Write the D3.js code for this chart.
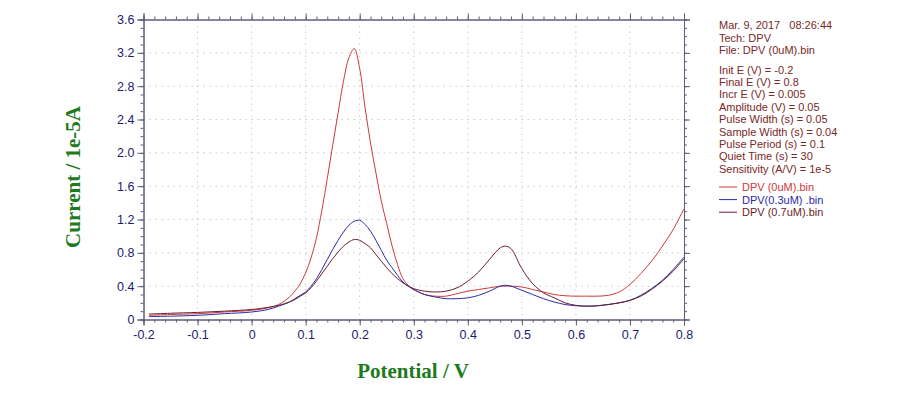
<!DOCTYPE html>
<html><head><meta charset="utf-8">
<script src="https://cdn.jsdelivr.net/npm/d3@7"></script>
<style>body{margin:0;background:#fff}svg{display:block}</style>
</head><body>
<svg id="c" width="900" height="412"></svg>
<script>
const potentials = [-0.19,-0.15,-0.1,-0.05,0,0.03,0.05,0.07,0.08,0.09,0.1,0.11,0.12,0.13,0.14,0.15,0.16,0.17,0.18,0.19,0.2,0.21,0.22,0.23,0.24,0.25,0.26,0.27,0.28,0.29,0.3,0.32,0.34,0.36,0.38,0.4,0.42,0.44,0.46,0.47,0.48,0.5,0.52,0.54,0.56,0.58,0.6,0.62,0.64,0.66,0.68,0.7,0.72,0.74,0.76,0.78,0.8];
const dpv0uM  = [0.05,0.06,0.07,0.09,0.11,0.14,0.18,0.27,0.34,0.43,0.56,0.74,0.98,1.31,1.69,2.09,2.48,2.86,3.14,3.25,3.01,2.54,2.12,1.76,1.42,1.15,0.88,0.66,0.49,0.41,0.36,0.30,0.28,0.28,0.31,0.34,0.36,0.38,0.40,0.40,0.40,0.39,0.36,0.33,0.30,0.285,0.28,0.28,0.28,0.29,0.33,0.42,0.55,0.70,0.88,1.08,1.33];
const dpv03uM = [0.035,0.04,0.05,0.07,0.09,0.12,0.16,0.21,0.25,0.29,0.33,0.40,0.49,0.60,0.72,0.84,0.95,1.05,1.13,1.18,1.19,1.14,1.06,0.95,0.83,0.71,0.62,0.53,0.45,0.40,0.36,0.30,0.27,0.25,0.25,0.26,0.29,0.34,0.40,0.41,0.40,0.35,0.30,0.25,0.21,0.18,0.165,0.16,0.165,0.18,0.20,0.23,0.29,0.37,0.47,0.60,0.75];
const dpv07uM = [0.065,0.075,0.085,0.10,0.12,0.145,0.17,0.21,0.24,0.28,0.32,0.38,0.46,0.55,0.64,0.73,0.81,0.88,0.93,0.96,0.95,0.91,0.86,0.78,0.70,0.62,0.55,0.49,0.44,0.40,0.37,0.34,0.33,0.34,0.38,0.46,0.57,0.72,0.86,0.88,0.85,0.61,0.43,0.32,0.26,0.20,0.17,0.16,0.165,0.18,0.20,0.23,0.28,0.36,0.46,0.58,0.73];
const seriesNames = ["DPV (0uM).bin","DPV(0.3uM) .bin","DPV (0.7uM).bin"];
const seriesColors = ["#cc3a3a","#2a2aa8","#6a1e2a"];
const xTicks = [-0.2,-0.1,0,0.1,0.2,0.3,0.4,0.5,0.6,0.7,0.8];
const yTicks = [0,0.4,0.8,1.2,1.6,2.0,2.4,2.8,3.2,3.6];
const infoLines = ["Mar. 9, 2017   08:26:44","Tech: DPV","File: DPV (0uM).bin"];
const paramLines = ["Init E (V) = -0.2","Final E (V) = 0.8","Incr E (V) = 0.005","Amplitude (V) = 0.05","Pulse Width (s) = 0.05","Sample Width (s) = 0.04","Pulse Period (s) = 0.1","Quiet Time (s) = 30","Sensitivity (A/V) = 1e-5"];

const svg = d3.select("#c");
const L=143.5, R=684, T=19.5, B=319.5;
const x = d3.scaleLinear().domain([-0.2,0.8]).range([L,R]);
const y = d3.scaleLinear().domain([0,3.6]).range([B,T]);
const axisCol = "#5c5c7c", labCol = "#1c1c70";

// grid
const g = svg.append("g");
g.selectAll(".gx").data(xTicks.slice(1,-1)).join("line")
  .attr("x1",d=>x(d)).attr("x2",d=>x(d)).attr("y1",T).attr("y2",B)
  .attr("stroke","#c8c8c8").attr("stroke-width",1).attr("stroke-dasharray","1.5,4.5");
g.selectAll(".gy").data(yTicks.slice(1,-1)).join("line")
  .attr("y1",d=>y(d)).attr("y2",d=>y(d)).attr("x1",L).attr("x2",R)
  .attr("stroke","#c8c8c8").attr("stroke-width",1).attr("stroke-dasharray","1.5,4.5");

// minor ticks
const xMinor = d3.range(-0.2,0.8001,0.02);
const yMinor = d3.range(0,3.6001,0.1);
function styleAxis(sel){
  sel.select(".domain").attr("stroke",axisCol);
  sel.selectAll(".tick line").attr("stroke",axisCol);
  sel.selectAll("text").attr("fill",labCol).attr("font-family","Arial, 'Liberation Sans', sans-serif").attr("font-size","12.5px");
}
svg.append("g").attr("transform",`translate(0,${B})`).call(d3.axisBottom(x).tickValues(xMinor).tickSize(3).tickFormat("")).call(styleAxis);
svg.append("g").attr("transform",`translate(0,${T})`).call(d3.axisTop(x).tickValues(xMinor).tickSize(3).tickFormat("")).call(styleAxis);
svg.append("g").attr("transform",`translate(${L},0)`).call(d3.axisLeft(y).tickValues(yMinor).tickSize(3).tickFormat("")).call(styleAxis);
svg.append("g").attr("transform",`translate(${R},0)`).call(d3.axisRight(y).tickValues(yMinor).tickSize(3).tickFormat("")).call(styleAxis);
// major ticks
svg.append("g").attr("transform",`translate(0,${B})`).call(d3.axisBottom(x).tickValues(xTicks).tickSize(6).tickPadding(5).tickFormat(d=> d===0?"0":String(Math.round(d*10)/10))).call(styleAxis);
svg.append("g").attr("transform",`translate(0,${T})`).call(d3.axisTop(x).tickValues(xTicks).tickSize(6).tickFormat("")).call(styleAxis);
svg.append("g").attr("transform",`translate(${L},0)`).call(d3.axisLeft(y).tickValues(yTicks).tickSize(6).tickPadding(3).tickFormat(d=> d===0?"0":d.toFixed(1))).call(styleAxis);
svg.append("g").attr("transform",`translate(${R},0)`).call(d3.axisRight(y).tickValues(yTicks).tickSize(6).tickFormat("")).call(styleAxis);

// lines
const allSeries = [dpv0uM, dpv03uM, dpv07uM];
const line = d3.line().x((d,i)=>x(potentials[i])).y(d=>y(d)).curve(d3.curveCatmullRom.alpha(0.5));
svg.append("g").selectAll("path").data(allSeries).join("path")
  .attr("d",d=>line(d)).attr("fill","none")
  .attr("stroke",(d,i)=>seriesColors[i]).attr("stroke-width",1);

// axis titles
svg.append("text").attr("x",413).attr("y",378).attr("text-anchor","middle")
  .attr("font-family","'Liberation Serif','Times New Roman',serif").attr("font-weight","bold")
  .attr("font-size","21px").attr("fill","#1e7a1e").text("Potential / V");
svg.append("text").attr("transform","translate(80,177) rotate(-90)").attr("text-anchor","middle")
  .attr("font-family","'Liberation Serif','Times New Roman',serif").attr("font-weight","bold")
  .attr("font-size","21px").attr("fill","#1e7a1e").text("Current / 1e-5A");

// info panel
const tf = "Arial, 'Liberation Sans', sans-serif";
const infoCol = "#7a2828";
const info = svg.append("g").attr("font-family",tf).attr("font-size","11px").attr("fill",infoCol);
infoLines.forEach((t,i)=> info.append("text").attr("x",719).attr("y",29+i*12.6).style("white-space","pre").text(t));
paramLines.forEach((t,i)=> info.append("text").attr("x",719).attr("y",73.5+i*12.4).text(t));
seriesNames.forEach((t,i)=>{
  const yy = 187+i*12.6;
  info.append("line").attr("x1",719).attr("x2",737).attr("y1",yy).attr("y2",yy).attr("stroke",seriesColors[i]).attr("stroke-width",1);
  info.append("text").attr("x",742).attr("y",yy+4).attr("fill",seriesColors[i]).text(t);
});
</script>
</body></html>
